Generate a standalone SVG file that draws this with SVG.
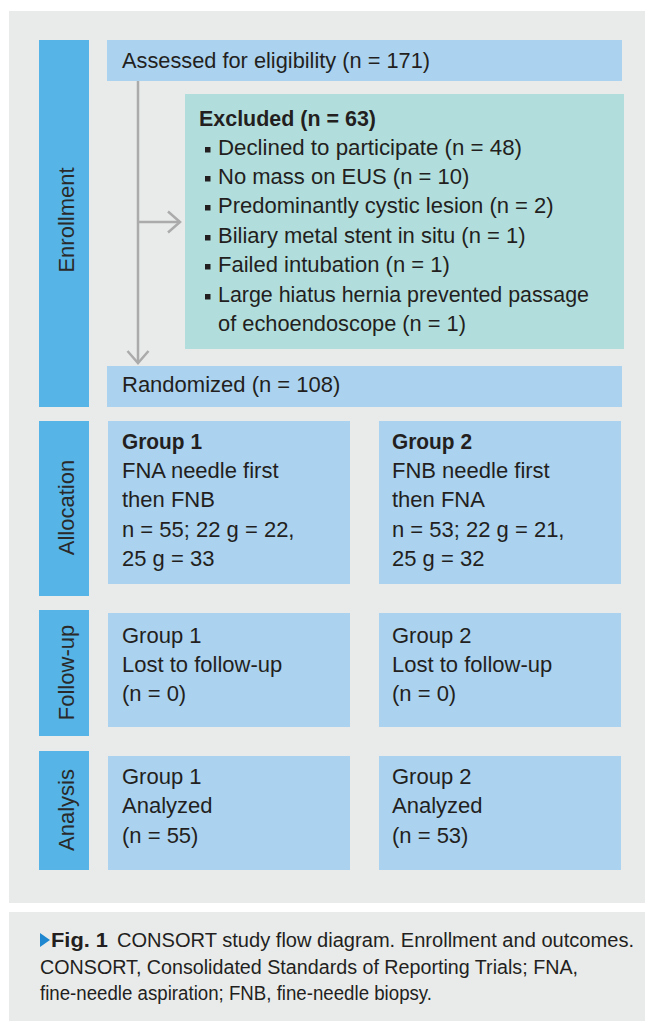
<svg xmlns="http://www.w3.org/2000/svg" width="645" height="1021" viewBox="0 0 645 1021">
<defs>
<style>
.panel{fill:#E9EBEB}
.side{fill:#56B4E6}
.box{fill:#ABD3F0}
.excl{fill:#B1DEDD}
.t{font-family:"Liberation Sans",Arial,sans-serif;font-size:22px;fill:#231F20}
.b{font-weight:bold}
.st{font-family:"Liberation Sans",Arial,sans-serif;font-size:22px;fill:#2A2A2A;text-anchor:middle}
.cap{font-family:"Liberation Sans",Arial,sans-serif;font-size:20px;fill:#231F20}
.conn{fill:none;stroke:#ABABAB;stroke-width:2.5}
.bul{fill:#231F20}
</style>
<marker id="arr" markerWidth="16" markerHeight="24" refX="13" refY="12" orient="auto" markerUnits="userSpaceOnUse">
<path d="M1,1.5 L13,12 L1,22.5" fill="none" stroke="#ABABAB" stroke-width="2.5"/>
</marker>
</defs>
<rect class="panel" x="9" y="11" width="636" height="892"/>
<rect class="panel" x="9" y="912" width="636" height="109"/>

<g id="side-enrollment"><rect class="side" x="39" y="40" width="50" height="367"/><text class="st" transform="translate(73.5,220) rotate(-90)">Enrollment</text></g>
<g id="side-allocation"><rect class="side" x="39" y="421" width="50" height="175"/><text class="st" transform="translate(73.5,507.5) rotate(-90)">Allocation</text></g>
<g id="side-followup"><rect class="side" x="39" y="610" width="50" height="126"/><text class="st" transform="translate(73.5,672.5) rotate(-90)">Follow-up</text></g>
<g id="side-analysis"><rect class="side" x="39" y="751" width="50" height="119"/><text class="st" transform="translate(73.5,810) rotate(-90)">Analysis</text></g>

<g id="connectors">
<path class="conn" d="M138,81 V363" marker-end="url(#arr)"/>
<path class="conn" d="M138,222 H180" marker-end="url(#arr)"/>
</g>

<g id="assessed"><rect class="box" x="107" y="40" width="515" height="41"/><text class="t" x="122" y="68" textLength="308" lengthAdjust="spacingAndGlyphs">Assessed for eligibility (n = 171)</text></g>

<g id="excluded"><rect class="excl" x="185" y="94" width="439" height="255"/>
<text class="t b" x="199" y="126" textLength="177" lengthAdjust="spacingAndGlyphs">Excluded (n = 63)</text>
<rect class="bul" x="205" y="147" width="5.5" height="5.5"/><text class="t" x="218" y="155" textLength="304" lengthAdjust="spacingAndGlyphs">Declined to participate (n = 48)</text>
<rect class="bul" x="205" y="176" width="5.5" height="5.5"/><text class="t" x="218" y="184">No mass on EUS (n = 10)</text>
<rect class="bul" x="205" y="205" width="5.5" height="5.5"/><text class="t" x="218" y="213">Predominantly cystic lesion (n = 2)</text>
<rect class="bul" x="205" y="235" width="5.5" height="5.5"/><text class="t" x="218" y="243">Biliary metal stent in situ (n = 1)</text>
<rect class="bul" x="205" y="264" width="5.5" height="5.5"/><text class="t" x="218" y="272">Failed intubation (n = 1)</text>
<rect class="bul" x="205" y="294" width="5.5" height="5.5"/><text class="t" x="218" y="302" textLength="371" lengthAdjust="spacingAndGlyphs">Large hiatus hernia prevented passage</text>
<text class="t" x="218" y="331" textLength="248" lengthAdjust="spacingAndGlyphs">of echoendoscope (n = 1)</text>
</g>

<g id="randomized"><rect class="box" x="107" y="366" width="515" height="41"/><text class="t" x="122" y="392">Randomized (n = 108)</text></g>

<g id="alloc-g1"><rect class="box" x="108" y="421" width="242" height="163"/>
<text class="t b" x="122" y="449" textLength="80" lengthAdjust="spacingAndGlyphs">Group 1</text>
<text class="t" x="122" y="478">FNA needle first</text>
<text class="t" x="122" y="507">then FNB</text>
<text class="t" x="122" y="537">n = 55; 22 g = 22,</text>
<text class="t" x="122" y="566">25 g = 33</text></g>

<g id="alloc-g2"><rect class="box" x="379" y="421" width="242" height="163"/>
<text class="t b" x="392" y="449" textLength="80" lengthAdjust="spacingAndGlyphs">Group 2</text>
<text class="t" x="392" y="478">FNB needle first</text>
<text class="t" x="392" y="507">then FNA</text>
<text class="t" x="392" y="537">n = 53; 22 g = 21,</text>
<text class="t" x="392" y="566">25 g = 32</text></g>

<g id="follow-g1"><rect class="box" x="108" y="613" width="242" height="114"/>
<text class="t" x="122" y="643">Group 1</text>
<text class="t" x="122" y="672">Lost to follow-up</text>
<text class="t" x="122" y="701">(n = 0)</text></g>

<g id="follow-g2"><rect class="box" x="379" y="613" width="242" height="114"/>
<text class="t" x="392" y="643">Group 2</text>
<text class="t" x="392" y="672">Lost to follow-up</text>
<text class="t" x="392" y="701">(n = 0)</text></g>

<g id="analysis-g1"><rect class="box" x="108" y="756" width="242" height="114"/>
<text class="t" x="122" y="784">Group 1</text>
<text class="t" x="122" y="813">Analyzed</text>
<text class="t" x="122" y="843">(n = 55)</text></g>

<g id="analysis-g2"><rect class="box" x="379" y="756" width="242" height="114"/>
<text class="t" x="392" y="784">Group 2</text>
<text class="t" x="392" y="813">Analyzed</text>
<text class="t" x="392" y="843">(n = 53)</text></g>

<g id="caption">
<polygon points="40,933 50,940 40,947" fill="#1F87CF"/>
<text class="cap b" x="51" y="947" textLength="57" lengthAdjust="spacingAndGlyphs">Fig. 1</text>
<text class="cap" x="117" y="947" textLength="517" lengthAdjust="spacingAndGlyphs">CONSORT study flow diagram. Enrollment and outcomes.</text>
<text class="cap" x="40" y="974" textLength="538" lengthAdjust="spacingAndGlyphs">CONSORT, Consolidated Standards of Reporting Trials; FNA,</text>
<text class="cap" x="40" y="1000" textLength="392" lengthAdjust="spacingAndGlyphs">fine-needle aspiration; FNB, fine-needle biopsy.</text>
</g>
</svg>
